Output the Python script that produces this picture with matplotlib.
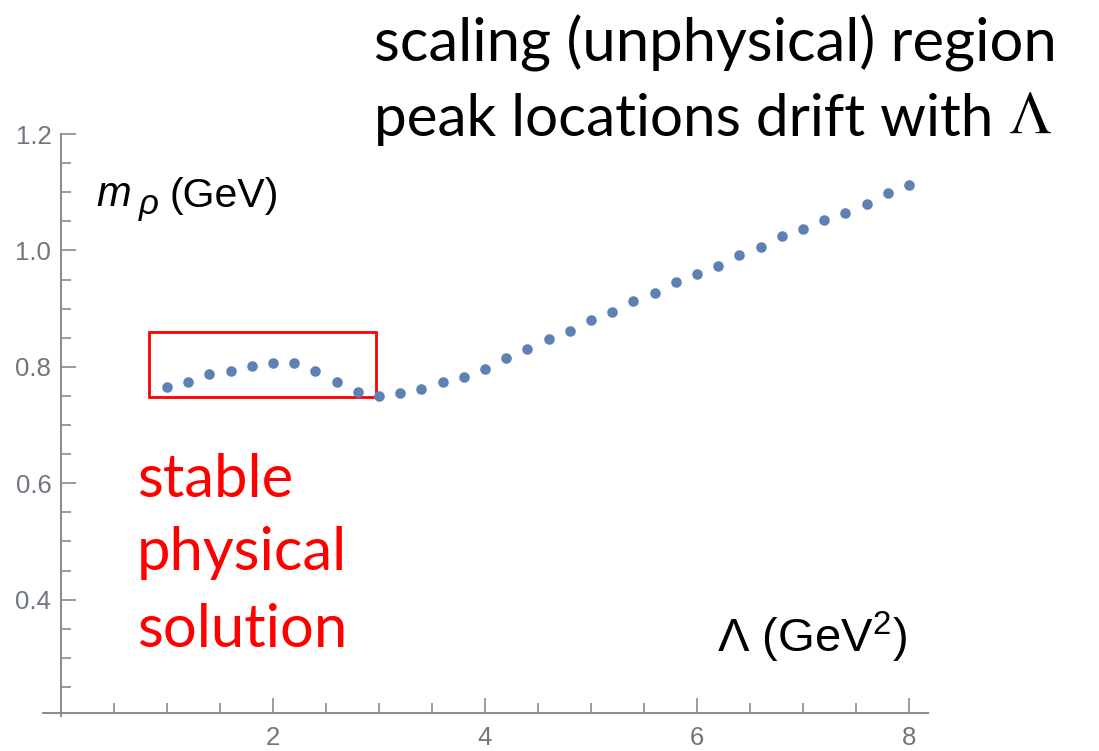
import matplotlib
matplotlib.use("Agg")
import matplotlib.pyplot as plt
from matplotlib.patches import Rectangle
from matplotlib.ticker import FixedLocator

# rho peak mass versus Borel-like scale Lambda
lam = [1.0, 1.2, 1.4, 1.6, 1.8, 2.0, 2.2, 2.4, 2.6, 2.8,
       3.0, 3.2, 3.4, 3.6, 3.8, 4.0, 4.2, 4.4, 4.6, 4.8,
       5.0, 5.2, 5.4, 5.6, 5.8, 6.0, 6.2, 6.4, 6.6, 6.8,
       7.0, 7.2, 7.4, 7.6, 7.8, 8.0]
m_rho = [0.765, 0.774, 0.787, 0.792, 0.802, 0.806, 0.806, 0.792, 0.774, 0.756,
         0.750, 0.755, 0.761, 0.774, 0.783, 0.797, 0.815, 0.830, 0.847, 0.862,
         0.880, 0.894, 0.913, 0.926, 0.945, 0.960, 0.973, 0.992, 1.005, 1.024,
         1.037, 1.052, 1.065, 1.079, 1.098, 1.112]

x_major = [2, 4, 6, 8]
y_major = [0.4, 0.6, 0.8, 1.0, 1.2]

plt.rcParams["mathtext.fontset"] = "custom"
plt.rcParams["mathtext.rm"] = "Liberation Sans"
plt.rcParams["mathtext.it"] = "Liberation Sans:italic"

W, H = 1099, 751
fig = plt.figure(figsize=(W / 100, H / 100), dpi=100)
ax = fig.add_axes([43 / W, 1 - 716 / H, 885 / W, 582 / H])
ax.set_xlim(-0.17, 8.18)
ax.set_ylim(0.2, 1.2)

axis_grey = "#8a8a8a"
for side in ("top", "right"):
    ax.spines[side].set_visible(False)
ax.spines["left"].set_position(("data", 0))
ax.spines["bottom"].set_position(("data", 0.205))
for side in ("left", "bottom"):
    ax.spines[side].set_color(axis_grey)
    ax.spines[side].set_linewidth(1.4)

ax.xaxis.set_major_locator(FixedLocator(x_major))
ax.xaxis.set_minor_locator(FixedLocator([v / 2 for v in range(1, 16) if v % 4]))
ax.yaxis.set_major_locator(FixedLocator(y_major))
ax.yaxis.set_minor_locator(FixedLocator([0.2 + 0.05 * i for i in range(21) if i % 4]))
ax.set_xticklabels([str(v) for v in x_major])
ax.set_yticklabels([f"{v:.1f}" for v in y_major])
ax.tick_params(which="both", direction="in", color=axis_grey, width=1.2,
               labelcolor="#70767f", labelsize=18.5, labelfontfamily="Liberation Sans")
ax.tick_params(which="major", length=11)
ax.tick_params(which="minor", length=7)
ax.tick_params(axis="x", pad=9)
ax.tick_params(axis="y", pad=7)

ax.plot(lam, m_rho, "o", color="#5e81b5", markersize=7.6, markeredgewidth=0)

# axis labels placed inside the frame
px = lambda x, y: (x / W, 1 - y / H)
fig.text(*px(96, 206), "m", fontsize=30, fontstyle="italic",
         fontfamily="Liberation Sans", va="baseline")
fig.text(*px(139, 214), "ρ", fontsize=25, fontstyle="italic",
         fontfamily="Liberation Sans", va="baseline")
fig.text(*px(169, 207), "(GeV)", fontsize=29.5,
         fontfamily="Liberation Sans", va="baseline")
fig.text(*px(717, 652), r"Λ (GeV$^2$)", fontsize=34,
         fontfamily="Liberation Sans", va="baseline")

# stable region marker
ax.add_patch(Rectangle((0.83, 0.7485), 2.14, 0.1105, fill=False,
                       edgecolor="red", linewidth=2.0))
for text, base in (("stable", 497), ("physical", 570), ("solution", 647)):
    fig.text(*px(137, base), text, color="red", fontsize=43,
             fontfamily="Lato", va="baseline")

fig.text(*px(374, 62), "scaling (unphysical) region", color="black",
         fontsize=43, fontfamily="Lato", va="baseline")
fig.text(*px(374, 136), "peak locations drift with", color="black",
         fontsize=42, fontfamily="Lato", va="baseline")
fig.text(*px(1008, 133), r"$\Lambda$", color="black", fontsize=44,
         math_fontfamily="stix", va="baseline")

fig.savefig("out.png", dpi=100)
